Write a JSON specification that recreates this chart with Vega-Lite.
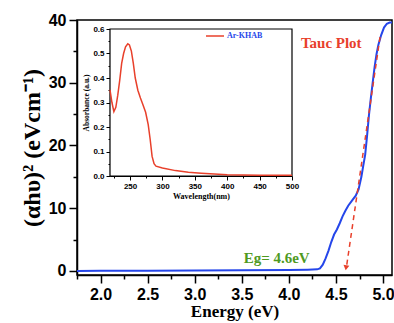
{
  "$schema": "https://vega.github.io/schema/vega-lite/v6.json",
  "width": 315,
  "height": 255,
  "autosize": {"type": "none"},
  "padding": {"left": 77, "top": 20, "right": 2, "bottom": 48},
  "background": "white",
  "config": {"view": {"stroke": "black", "strokeWidth": 1.5}, "axis": {"grid": false, "labelFlush": false, "labelOverlap": false, "labelBound": false, "tickColor": "black", "domainColor": "black", "labelColor": "black", "titleColor": "black", "titleFont": "Liberation Serif", "titleFontWeight": "bold"}},
  "datasets": {
    "tauc": [
      {"E": 1.75, "Y": 0.0}, {"E": 2.0, "Y": 0.02}, {"E": 2.5, "Y": 0.04}, {"E": 3.0, "Y": 0.06},
      {"E": 3.5, "Y": 0.1}, {"E": 4.0, "Y": 0.15}, {"E": 4.2, "Y": 0.2}, {"E": 4.3, "Y": 0.25},
      {"E": 4.33, "Y": 0.4}, {"E": 4.36, "Y": 1.0}, {"E": 4.39, "Y": 2.0}, {"E": 4.42, "Y": 3.2},
      {"E": 4.45, "Y": 4.6}, {"E": 4.48, "Y": 5.8}, {"E": 4.51, "Y": 6.6}, {"E": 4.54, "Y": 7.6},
      {"E": 4.57, "Y": 8.7}, {"E": 4.6, "Y": 9.6}, {"E": 4.63, "Y": 10.4}, {"E": 4.67, "Y": 11.2},
      {"E": 4.71, "Y": 12.0}, {"E": 4.74, "Y": 13.0}, {"E": 4.77, "Y": 15.0}, {"E": 4.79, "Y": 16.8},
      {"E": 4.81, "Y": 18.5}, {"E": 4.83, "Y": 21.5}, {"E": 4.85, "Y": 24.8}, {"E": 4.87, "Y": 27.5},
      {"E": 4.89, "Y": 30.0}, {"E": 4.91, "Y": 32.5}, {"E": 4.93, "Y": 34.5}, {"E": 4.95, "Y": 36.0},
      {"E": 4.98, "Y": 37.6}, {"E": 5.01, "Y": 38.8}, {"E": 5.04, "Y": 39.4}, {"E": 5.07, "Y": 39.6},
      {"E": 5.095, "Y": 39.6}
    ],
    "tangent": [{"E": 4.615, "Y": 1.0}, {"E": 4.97, "Y": 37.5}],
    "abs": [
      {"wl": 219, "A": 0.352, "s": "Ar-KHAB"}, {"wl": 222, "A": 0.3, "s": "Ar-KHAB"}, {"wl": 225, "A": 0.263, "s": "Ar-KHAB"},
      {"wl": 228, "A": 0.28, "s": "Ar-KHAB"}, {"wl": 231, "A": 0.33, "s": "Ar-KHAB"}, {"wl": 234, "A": 0.39, "s": "Ar-KHAB"},
      {"wl": 237, "A": 0.46, "s": "Ar-KHAB"}, {"wl": 240, "A": 0.5, "s": "Ar-KHAB"}, {"wl": 243, "A": 0.527, "s": "Ar-KHAB"},
      {"wl": 246.5, "A": 0.54, "s": "Ar-KHAB"}, {"wl": 249, "A": 0.535, "s": "Ar-KHAB"}, {"wl": 252, "A": 0.51, "s": "Ar-KHAB"},
      {"wl": 255, "A": 0.46, "s": "Ar-KHAB"}, {"wl": 258, "A": 0.4, "s": "Ar-KHAB"}, {"wl": 262, "A": 0.35, "s": "Ar-KHAB"},
      {"wl": 266, "A": 0.318, "s": "Ar-KHAB"}, {"wl": 270, "A": 0.29, "s": "Ar-KHAB"}, {"wl": 274, "A": 0.26, "s": "Ar-KHAB"},
      {"wl": 278, "A": 0.21, "s": "Ar-KHAB"}, {"wl": 281, "A": 0.15, "s": "Ar-KHAB"}, {"wl": 284, "A": 0.08, "s": "Ar-KHAB"},
      {"wl": 287, "A": 0.05, "s": "Ar-KHAB"}, {"wl": 290, "A": 0.04, "s": "Ar-KHAB"}, {"wl": 300, "A": 0.033, "s": "Ar-KHAB"},
      {"wl": 320, "A": 0.022, "s": "Ar-KHAB"}, {"wl": 340, "A": 0.015, "s": "Ar-KHAB"}, {"wl": 360, "A": 0.011, "s": "Ar-KHAB"},
      {"wl": 380, "A": 0.008, "s": "Ar-KHAB"}, {"wl": 400, "A": 0.005, "s": "Ar-KHAB"}, {"wl": 450, "A": 0.003, "s": "Ar-KHAB"},
      {"wl": 500, "A": 0.003, "s": "Ar-KHAB"}
    ]
  },
  "layer": [
    {
      "layer": [
        {
          "data": {"name": "tauc"},
          "mark": {"type": "line", "color": "#2546ea", "strokeWidth": 2},
          "encoding": {
            "x": {"field": "E", "type": "quantitative", "scale": {"domain": [1.75, 5.095], "nice": false, "zero": false},
              "axis": {"orient": "bottom", "values": [2, 2.5, 3, 3.5, 4, 4.5, 5], "format": ".1f", "tickSize": 8, "tickWidth": 1.5, "domainWidth": 1.5,
                "labelFont": "Liberation Sans", "labelFontWeight": "bold", "labelFontSize": 16, "labelPadding": 3,
                "title": "Energy (eV)", "titleFont": "Liberation Serif", "titleFontWeight": "bold", "titleFontSize": 17, "titlePadding": 1}},
            "y": {"field": "Y", "type": "quantitative", "scale": {"domain": [-0.65, 40], "nice": false, "zero": false},
              "axis": {"orient": "left", "values": [0, 10, 20, 30, 40], "tickSize": 8, "tickWidth": 1.5, "domainWidth": 1.5,
                "labelFont": "Liberation Sans", "labelFontWeight": "bold", "labelFontSize": 16, "labelPadding": 3,
                "title": "(αhυ)² (eVcm⁻¹)", "titleFont": "Liberation Serif", "titleFontWeight": "bold", "titleFontSize": 24, "titlePadding": 4}}
          }
        },
        {
          "data": {"values": [{}]},
          "mark": {"type": "text", "text": "Tauc Plot", "font": "Liberation Serif", "fontWeight": "bold", "fontSize": 15, "color": "#e8402b"},
          "encoding": {"x": {"datum": 4.45, "type": "quantitative"}, "y": {"datum": 36.4, "type": "quantitative"}}
        },
        {
          "data": {"values": [{}]},
          "mark": {"type": "text", "text": "Eg= 4.6eV", "font": "Liberation Serif", "fontWeight": "bold", "fontSize": 15, "color": "#4f9a1f"},
          "encoding": {"x": {"datum": 3.87, "type": "quantitative"}, "y": {"datum": 2.1, "type": "quantitative"}}
        }
      ]
    },
    {
      "layer": [
        {
          "data": {"name": "tangent"},
          "mark": {"type": "line", "color": "#e8402b", "strokeWidth": 1.5, "strokeDash": [5, 4]},
          "encoding": {
            "x": {"field": "E", "type": "quantitative", "scale": {"domain": [1.75, 5.095], "nice": false, "zero": false},
              "axis": {"orient": "bottom", "values": [1.75, 2.25, 2.75, 3.25, 3.75, 4.25, 4.75], "labels": false, "domain": false, "tickSize": 4, "tickWidth": 1.5, "title": null}},
            "y": {"field": "Y", "type": "quantitative", "scale": {"domain": [-0.65, 40], "nice": false, "zero": false},
              "axis": {"orient": "left", "values": [5, 15, 25, 35], "labels": false, "domain": false, "tickSize": 4, "tickWidth": 1.5, "title": null}}
          }
        },
        {
          "data": {"values": [{}]},
          "mark": {"type": "point", "shape": "triangle-down", "filled": true, "color": "#e8402b", "size": 35, "angle": 8, "opacity": 1},
          "encoding": {"x": {"datum": 4.607, "type": "quantitative"}, "y": {"datum": 0.5, "type": "quantitative"}}
        }
      ]
    },
    {
      "layer": [
        {
          "data": {"values": [{}]},
          "mark": {"type": "rect", "fill": "white", "stroke": "black", "strokeWidth": 1.2},
          "encoding": {
            "x": {"datum": 219, "type": "quantitative", "scale": {"domain": [219, 500], "range": [33, 215], "nice": false, "zero": false},
              "axis": {"orient": "bottom", "offset": -99, "values": [225, 275, 325, 375, 425, 475], "labels": false, "domain": false, "tickSize": 2, "title": null}},
            "x2": {"datum": 500},
            "y": {"datum": 0, "type": "quantitative", "scale": {"domain": [0, 0.6], "range": [156, 9], "nice": false, "zero": false},
              "axis": {"orient": "left", "offset": -33, "values": [0.05, 0.15, 0.25, 0.35, 0.45, 0.55], "labels": false, "domain": false, "tickSize": 2, "title": null}},
            "y2": {"datum": 0.6}
          }
        }
      ]
    },
    {
      "layer": [
        {
          "data": {"name": "abs"},
          "mark": {"type": "line", "strokeWidth": 1.5},
          "encoding": {
            "x": {"field": "wl", "type": "quantitative", "scale": {"domain": [219, 500], "range": [33, 215], "nice": false, "zero": false},
              "axis": {"orient": "bottom", "offset": -99, "values": [250, 300, 350, 400, 450, 500], "tickSize": 4, "domainWidth": 1.2,
                "labelFont": "Liberation Sans", "labelFontWeight": "bold", "labelFontSize": 8, "labelPadding": 2,
                "title": "Wavelength(nm)", "titleFont": "Liberation Serif", "titleFontWeight": "bold", "titleFontSize": 8, "titlePadding": 2}},
            "y": {"field": "A", "type": "quantitative", "scale": {"domain": [0, 0.6], "range": [156, 9], "nice": false, "zero": false},
              "axis": {"orient": "left", "offset": -33, "values": [0, 0.1, 0.2, 0.3, 0.4, 0.5, 0.6], "format": ".1f", "tickSize": 4, "domainWidth": 1.2,
                "labelFont": "Liberation Sans", "labelFontWeight": "bold", "labelFontSize": 8, "labelPadding": 2,
                "title": "Absorbance (a.u.)", "titleFont": "Liberation Serif", "titleFontWeight": "bold", "titleFontSize": 7.5, "titlePadding": 2}},
            "color": {"field": "s", "type": "nominal", "scale": {"range": ["#e8402b"]},
              "legend": {"orient": "none", "legendX": 128, "legendY": 6, "title": null, "symbolType": "stroke", "symbolSize": 324, "symbolStrokeWidth": 1.5,
                "labelFont": "Liberation Serif", "labelFontWeight": "bold", "labelFontSize": 8, "labelColor": "#2546ea", "labelOffset": 2}}
          }
        }
      ]
    }
  ],
  "resolve": {"scale": {"x": "independent", "y": "independent", "color": "independent"}, "axis": {"x": "independent", "y": "independent"}}
}
